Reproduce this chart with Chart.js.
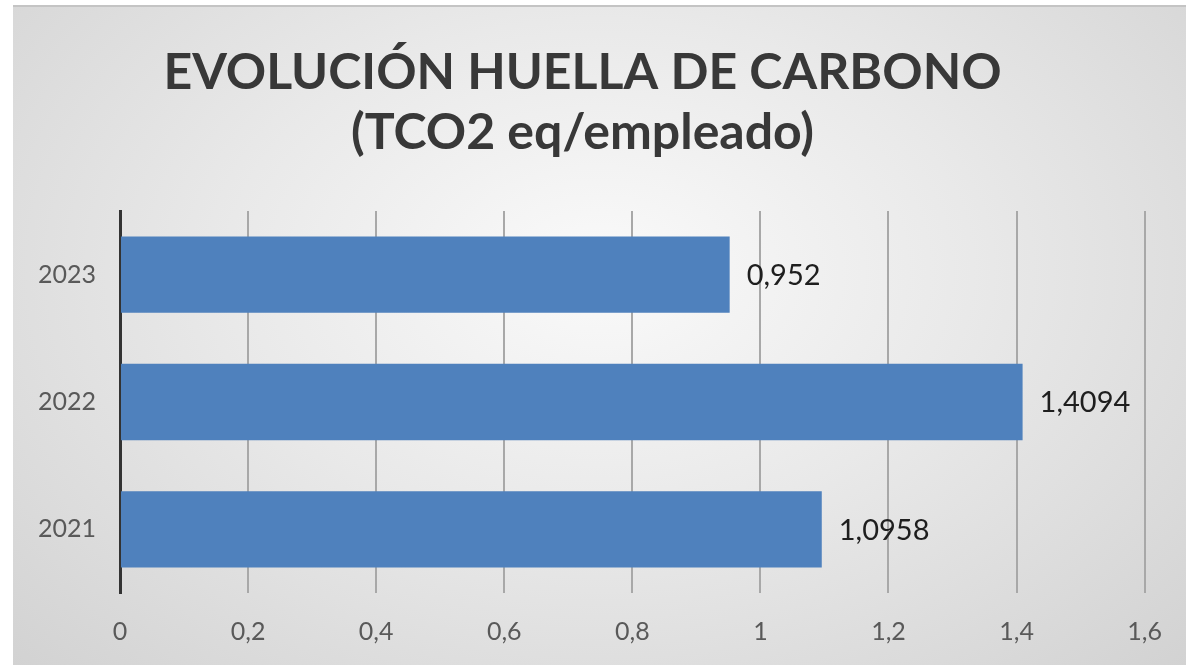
<!DOCTYPE html>
<html lang="es">
<head>
    <meta charset="UTF-8">
    <title>Evolución huella de carbono</title>
    <script src="https://cdn.jsdelivr.net/npm/chart.js"></script>
    <style>
        html, body {
            margin: 0;
            padding: 0;
            background: #ffffff;
            overflow: hidden;
        }
        .chart-box {
            position: absolute;
            left: 13px;
            top: 5px;
            width: 1173px;
            height: 660px;
            border-top: 2px solid #c4c4c4;
            background: radial-gradient(ellipse at 50% 40%, #fafafa 0%, #e9e9e9 45%, #d2d2d2 100%);
        }
    </style>
</head>
<body>
    <div class="chart-box">
        <canvas id="huellaChart"></canvas>
    </div>

    <script>
        // Datos
        const years = ['2021', '2022', '2023'];
        const huella = [1.0958, 1.4094, 0.952];
        const axisMin = 0;
        const axisMax = 1.6;
        const axisStep = 0.2;

        const FONT = 'Lato, "Open Sans", sans-serif';

        function comma(v) {
            return String(v).replace('.', ',');
        }

        // etiquetas de valor a la derecha de cada barra
        const valueLabels = {
            id: 'valueLabels',
            afterDatasetsDraw(chart) {
                const ctx = chart.ctx;
                const meta = chart.getDatasetMeta(0);
                ctx.save();
                ctx.font = '29px ' + FONT;
                ctx.fillStyle = '#1e1e1e';
                ctx.textBaseline = 'middle';
                ctx.textAlign = 'left';
                meta.data.forEach((bar, i) => {
                    ctx.fillText(comma(huella[i]), bar.x + 17, bar.y + 1);
                });
                ctx.restore();
            }
        };

        const ctx = document.getElementById('huellaChart').getContext('2d');
        new Chart(ctx, {
            type: 'bar',
            data: {
                labels: years,
                datasets: [{
                    data: huella,
                    backgroundColor: '#4f81bd',
                    borderWidth: 0,
                    barPercentage: 0.6,
                    categoryPercentage: 1.0
                }]
            },
            options: {
                indexAxis: 'y',
                responsive: true,
                maintainAspectRatio: false,
                animation: false,
                layout: {
                    padding: { left: 0, right: 34, top: 0, bottom: -4 }
                },
                plugins: {
                    legend: { display: false },
                    tooltip: { enabled: false },
                    title: {
                        display: true,
                        text: ['EVOLUCIÓN HUELLA DE CARBONO', '(TCO2 eq/empleado)'],
                        color: '#383838',
                        font: { family: FONT, size: 50, weight: 'bold', lineHeight: 1.2 },
                        padding: { top: 36, bottom: 48 }
                    }
                },
                scales: {
                    x: {
                        min: axisMin,
                        max: axisMax,
                        ticks: {
                            stepSize: axisStep,
                            padding: 24,
                            color: '#595959',
                            font: { family: FONT, size: 25 },
                            maxRotation: 0,
                            callback: (v) => comma(Number(v.toFixed(1)))
                        },
                        grid: {
                            color: '#a8a8a8',
                            lineWidth: 2,
                            drawTicks: false
                        },
                        border: { display: false }
                    },
                    y: {
                        reverse: true,
                        ticks: {
                            padding: 24,
                            color: '#595959',
                            font: { family: FONT, size: 25 }
                        },
                        grid: { display: false, drawTicks: false },
                        border: { display: true, color: '#333333', width: 3 },
                        afterFit(scale) {
                            scale.width = 107;
                        }
                    }
                }
            },
            plugins: [valueLabels]
        });
    </script>
</body>
</html>
